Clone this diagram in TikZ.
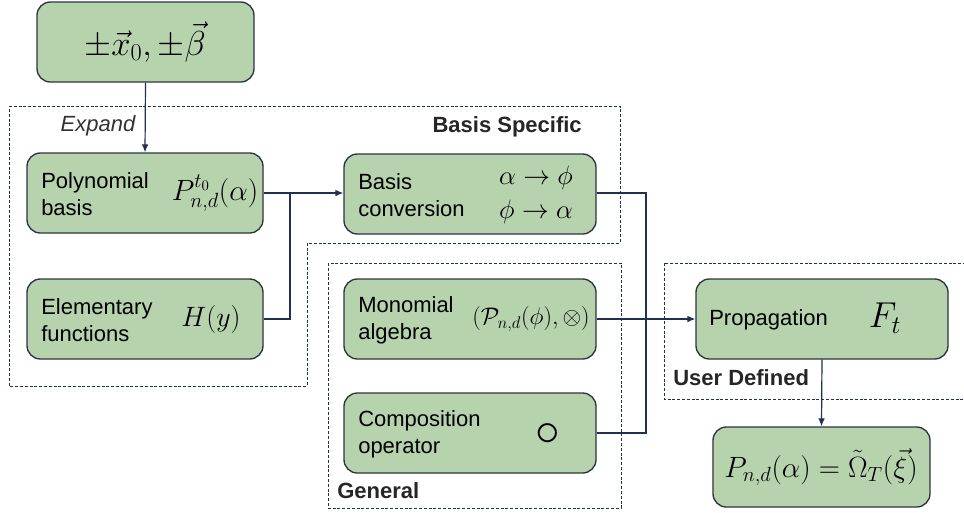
\RequirePackage{fix-cm}
\documentclass[tikz,border=0pt]{standalone}
\usepackage{fontspec}
\setmainfont{Liberation Sans}
\usetikzlibrary{fit,calc,arrows.meta}
\definecolor{boxfill}{RGB}{182,211,173}
\definecolor{boxline}{RGB}{45,52,64}
\definecolor{conncol}{RGB}{31,48,80}
\tikzset{
  box/.style={draw=boxline, fill=boxfill, rounded corners=10pt, line width=1pt, inner sep=0pt},
  txt/.style={inner sep=0pt, align=left, font=\fontsize{16.5}{20}\selectfont},
  grp/.style={inner sep=0pt, font=\fontsize{16.5}{20}\selectfont\bfseries, text=black!85},
  mth/.style={inner sep=0pt},
  conn/.style={draw=conncol, line width=0.9pt},
  arr/.style={conn, -{Latex[length=6pt,width=5pt]}},
  dbox/.style={draw=conncol, line width=0.7pt, dash pattern=on 2.2pt off 1.4pt}
}
\begin{document}
\begin{tikzpicture}[x=0.75pt,y=-0.75pt]
\useasboundingbox (0,0) rectangle (964,512);
% dashed groups
\draw[dbox] (9,106) -- (620,106) -- (620,243) -- (307,243) -- (307,386) -- (9,386) -- cycle;
\draw[dbox] (328,263) rectangle (621,508);
\draw[dbox] (966,263) -- (664,263) -- (664,399) -- (966,399);
% boxes
\node[box, fit={(37,2)(254,82)}] (top) {};
\node[box, fit={(27,153)(263,233)}] (poly) {};
\node[box, fit={(27,279)(263,359)}] (elem) {};
\node[box, fit={(344,154)(596,234)}] (conv) {};
\node[box, fit={(344,279)(596,359)}] (mono) {};
\node[box, fit={(344,393)(596,473)}] (comp) {};
\node[box, fit={(696,279)(948,359)}] (prop) {};
\node[box, fit={(713,427)(930,507)}] (res) {};
% box contents
\node[mth] (topM) at (145,42) {\fontsize{26}{30}\selectfont$\pm\vec{x}_0,\pm\vec{\beta}$};
\node[txt, anchor=west] (polyT) at (41,194) {Polynomial\\basis};
\node[mth] (polyM) at (215,193) {\fontsize{22}{26}\selectfont$P^{t_0}_{n,d}(\alpha)$};
\node[txt, anchor=west] (elemT) at (41,320) {Elementary\\functions};
\node[mth] (elemM) at (211,319) {\fontsize{21}{25}\selectfont$H(y)$};
\node[txt, anchor=west] (convT) at (358,195) {Basis\\conversion};
\node[mth] (convM1) at (536,178) {\fontsize{20}{24}\selectfont$\alpha\rightarrow\phi$};
\node[mth] (convM2) at (536,212) {\fontsize{20}{24}\selectfont$\phi\rightarrow\alpha$};
\node[txt, anchor=west] (monoT) at (358,320) {Monomial\\algebra};
\node[mth] (monoM) at (531,319) {\fontsize{18}{22}\selectfont$(\mathcal{P}_{n,d}(\phi),\otimes)$};
\node[txt, anchor=west] (compT) at (358,434) {Composition\\operator};
\node[mth] (compM) at (548,435) {\fontsize{37}{40}\selectfont$\circ$};
\node[txt, anchor=west] (propT) at (709,320) {Propagation};
\node[mth] (propM) at (885,318) {\fontsize{27}{30}\selectfont$F_t$};
\node[mth] (resM) at (821,467) {\fontsize{22}{26}\selectfont$P_{n,d}(\alpha)=\tilde{\Omega}_T(\vec{\xi})$};
% group labels
\node[txt, anchor=center, font=\fontsize{16.5}{20}\selectfont\itshape, text=black!80] (expand) at (98,126) {Expand};
\node[grp, anchor=east] (lblBS) at (582,127) {Basis Specific};
\node[grp, anchor=west] (lblG) at (337,491) {General};
\node[grp, anchor=west] (lblU) at (673,378) {User Defined};
% connectors
\coordinate (j1) at (290,193);
\coordinate (j2) at (646,433);
\draw[arr] (top.south) -- (poly.north);
\draw[arr] (poly.east |- 0,193) -- (conv.west |- 0,193);
\draw[conn] (elem.east) -| (j1);
\draw[conn] (conv.east |- 0,193) -| (j2) -- (comp.east |- j2);
\draw[arr] (mono.east) -- (prop.west);
\draw[arr] (prop.south) -- (res.north);
\end{tikzpicture}
\end{document}
